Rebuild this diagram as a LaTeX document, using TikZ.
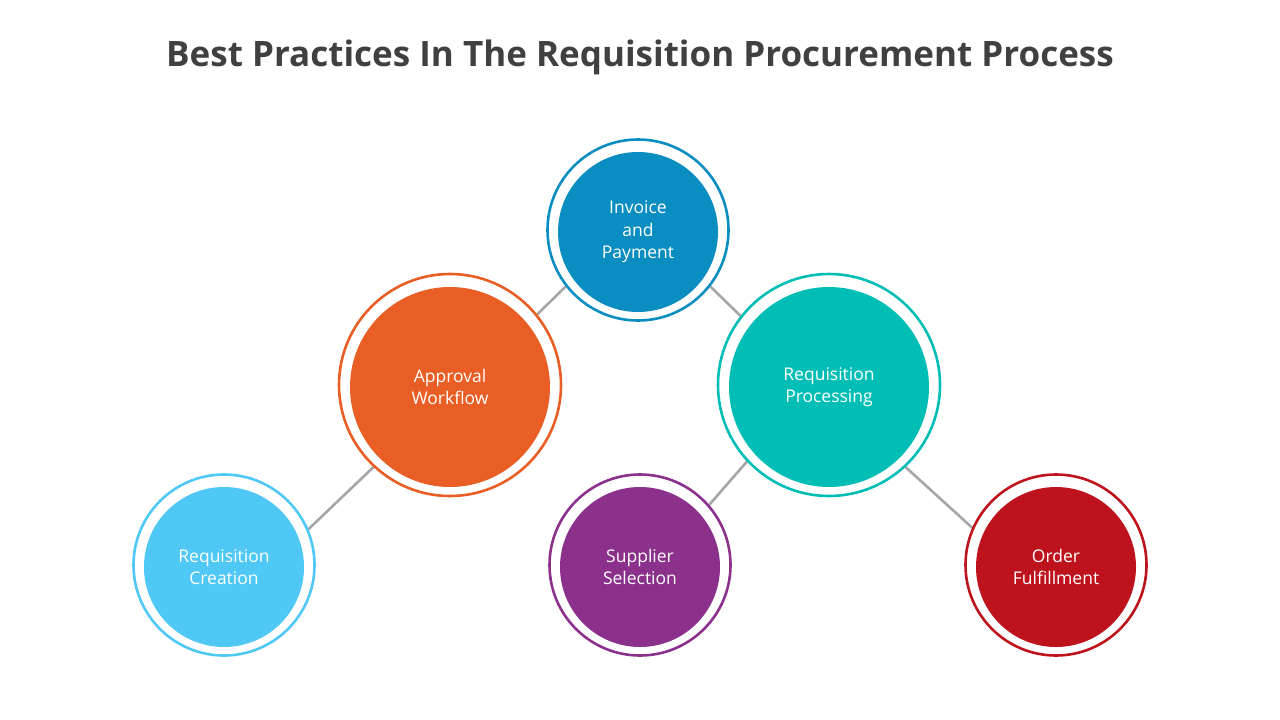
\documentclass[tikz,border=0pt]{standalone}
\usepackage{fontspec}
\setmainfont{Open Sans}
\usetikzlibrary{backgrounds}
\definecolor{titlegray}{HTML}{404040}
\definecolor{linegray}{HTML}{A6A6A6}
\definecolor{cblue}{HTML}{0A8DC0}
\definecolor{corange}{HTML}{E85E24}
\definecolor{cteal}{HTML}{00BEB5}
\definecolor{clight}{HTML}{4FC8F6}
\definecolor{cpurple}{HTML}{8B318B}
\definecolor{cred}{HTML}{BE131C}
\tikzset{
  small/.style={circle, fill=#1, minimum size=160pt, inner sep=0pt, text=white, align=center, font=\fontsize{17.5}{22.5}\selectfont, yshift=-2pt},
  big/.style={circle, fill=#1, minimum size=200pt, inner sep=0pt, text=white, align=center, font=\fontsize{17.5}{22.5}\selectfont, yshift=-2pt},
  ring/.style={circle, draw=#1, line width=2.6pt, fill=white, inner sep=0pt},
  link/.style={draw=linegray, line width=2.6pt},
}
\begin{document}
\begin{tikzpicture}[x=1pt,y=-1pt]
\useasboundingbox (0,0) rectangle (1280,720);
% rings
\node[ring=cblue, minimum size=181pt] (r1) at (638,230) {};
\node[ring=corange, minimum size=222pt] (r2) at (450,385) {};
\node[ring=cteal, minimum size=222pt] (r3) at (829,385) {};
\node[ring=clight, minimum size=181pt] (r4) at (224,565) {};
\node[ring=cpurple, minimum size=181pt] (r5) at (640,565) {};
\node[ring=cred, minimum size=181pt] (r6) at (1056,565) {};
% connectors
\begin{pgfonlayer}{background}
\draw[link] (r4.23) -- (r2.227);
\draw[link] (r2.39) -- (r1.218);
\draw[link] (r1.322) -- (r3.142);
\draw[link] (r3.223.6) -- (r5.41.5);
\draw[link] (r3.313) -- (r6.156.7);
\end{pgfonlayer}
% inner circles
\node[small=cblue] (n1) at (r1.center) {Invoice\\and\\Payment};
\node[big=corange] (n2) at (r2.center) {Approval\\Workflow};
\node[big=cteal] (n3) at (r3.center) {Requisition\\Processing};
\node[small=clight] (n4) at (r4.center) {Requisition\\Creation};
\node[small=cpurple] (n5) at (r5.center) {Supplier\\Selection};
\node[small=cred] (n6) at (r6.center) {Order\\Fulfillment};
% title
\node[text=titlegray, font=\bfseries\fontsize{35}{40}\selectfont] (title) at (640,57) {Best Practices In The Requisition Procurement Process};
\end{tikzpicture}
\end{document}
